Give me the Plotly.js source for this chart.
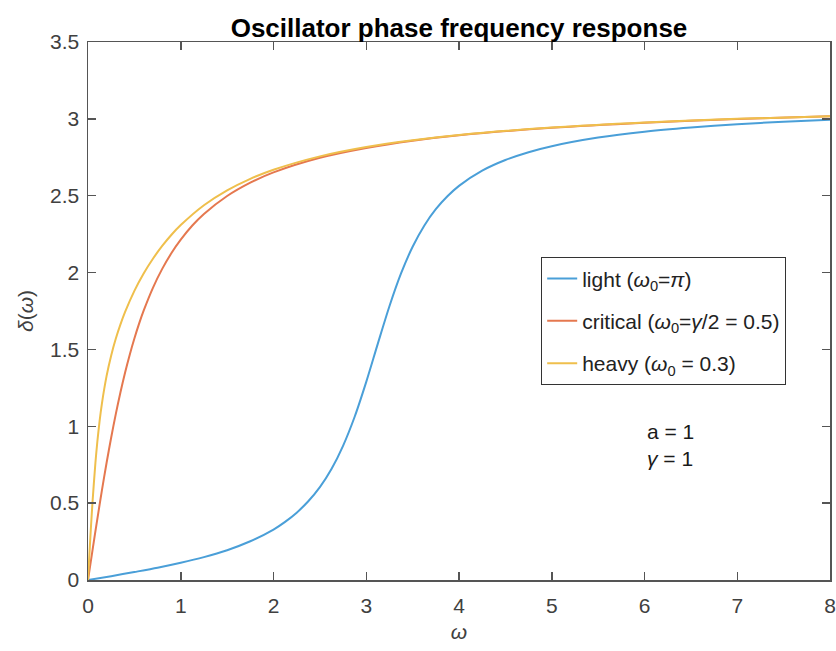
<!DOCTYPE html>
<html>
<head>
<meta charset="utf-8">
<script src="https://cdn.plot.ly/plotly-3.0.1.min.js"></script>
<style>html,body{margin:0;padding:0;background:#fff;}#chart{width:836px;height:651px;}</style>
</head>
<body>
<div id="chart"></div>
<script>
// Values
const omegaLight = [0, 0.25, 0.5, 0.75, 1, 1.25, 1.5, 1.75, 2, 2.125, 2.25, 2.375, 2.5, 2.625, 2.75, 2.875, 3, 3.125, 3.25, 3.375, 3.5, 3.625, 3.75, 3.875, 4, 4.25, 4.5, 4.75, 5, 5.5, 6, 6.5, 7, 7.5, 8];
const deltaLight = [0, 0.025, 0.052, 0.080, 0.112, 0.149, 0.194, 0.252, 0.328, 0.378, 0.438, 0.512, 0.604, 0.722, 0.873, 1.062, 1.289, 1.538, 1.781, 1.994, 2.168, 2.305, 2.412, 2.496, 2.564, 2.663, 2.732, 2.783, 2.822, 2.878, 2.916, 2.943, 2.965, 2.981, 2.995];

const omegaCritical = [0, 0.05, 0.1, 0.15, 0.2, 0.25, 0.3, 0.35, 0.4, 0.45, 0.5, 0.55, 0.6, 0.7, 0.8, 0.9, 1, 1.125, 1.25, 1.5, 1.75, 2, 2.5, 3, 3.5, 4, 5, 6, 7, 8];
const deltaCritical = [0, 0.199, 0.395, 0.583, 0.761, 0.927, 1.081, 1.221, 1.350, 1.466, 1.571, 1.666, 1.752, 1.901, 2.024, 2.127, 2.214, 2.306, 2.381, 2.498, 2.585, 2.652, 2.747, 2.811, 2.858, 2.893, 2.942, 2.975, 2.999, 3.017];

const omegaHeavy = [0, 0.01, 0.02, 0.03, 0.05, 0.08, 0.1, 0.125, 0.15, 0.2, 0.25, 0.3, 0.35, 0.4, 0.5, 0.6, 0.7, 0.8, 0.9, 1, 1.25, 1.5, 1.75, 2, 2.5, 3, 3.5, 4, 5, 6, 7, 8];
const deltaHeavy = [0, 0.111, 0.220, 0.325, 0.519, 0.763, 0.896, 1.034, 1.148, 1.326, 1.461, 1.571, 1.663, 1.744, 1.881, 1.994, 2.090, 2.173, 2.246, 2.309, 2.438, 2.535, 2.610, 2.669, 2.756, 2.817, 2.861, 2.895, 2.943, 2.976, 3.000, 3.017];

const seriesNames = ['light (<i>ω</i><sub>0</sub>=<i>π</i>)', 'critical (<i>ω</i><sub>0</sub>=<i>γ</i>/2 = 0.5)', 'heavy (<i>ω</i><sub>0</sub> = 0.3)'];
const xTicks = [0, 1, 2, 3, 4, 5, 6, 7, 8];
const yTicks = [0, 0.5, 1, 1.5, 2, 2.5, 3, 3.5];
const paramText = ['a = 1', '<i>γ</i> = 1'];

const FONT = 'Liberation Sans, Arial, sans-serif';
const colors = ['#4a9fd8', '#e5784f', '#efbf4c'];
const xs = [omegaLight, omegaCritical, omegaHeavy];
const ys = [deltaLight, deltaCritical, deltaHeavy];

const traces = xs.map((x, i) => ({
  x: x, y: ys[i], type: 'scatter', mode: 'lines',
  name: seriesNames[i], legendgroup: 'g' + i,
  line: {color: colors[i], width: 2, shape: 'spline', smoothing: 0.8}
}));

const axisCommon = {
  showgrid: false, zeroline: false, showline: true, mirror: 'ticks',
  linecolor: '#555555', linewidth: 1.5, ticks: 'inside', ticklen: 8, tickwidth: 1.5,
  tickcolor: '#555555', tickfont: {family: FONT, size: 21, color: '#404040'}
};

const layout = {
  width: 836, height: 651,
  margin: {l: 88, r: 6, t: 42, b: 71},
  paper_bgcolor: '#ffffff', plot_bgcolor: '#ffffff',
  font: {family: FONT, color: '#404040'},
  title: {text: '<b>Oscillator phase frequency response</b>', font: {family: FONT, size: 26, color: '#000000'},
          x: 0.5, xref: 'paper', y: 0.957, yref: 'container', yanchor: 'middle'},
  xaxis: Object.assign({}, axisCommon, {range: [0, 8], tickvals: xTicks, ticktext: xTicks.map(String),
          ticklabelstandoff: 6,
          title: {text: '<i>ω</i>', font: {family: FONT, size: 21, color: '#404040'}, standoff: 8}}),
  yaxis: Object.assign({}, axisCommon, {range: [0, 3.5], tickvals: yTicks, ticktext: yTicks.map(String),
          ticklabelstandoff: 3,
          title: {text: '<i>δ</i>(<i>ω</i>)', font: {family: FONT, size: 21, color: '#404040'}, standoff: 10}}),
  showlegend: true,
  legend: {x: 0.6105, y: 0.6, xanchor: 'left', yanchor: 'top', xref: 'paper', yref: 'paper',
           bgcolor: '#ffffff', bordercolor: '#333333', borderwidth: 1.2,
           entrywidth: 235, entrywidthmode: 'pixels',
           font: {family: FONT, size: 21, color: '#222222'}, tracegroupgap: 12},
  annotations: [{
    x: 6, y: 0.88, xref: 'x', yref: 'y', xanchor: 'left', yanchor: 'middle', showarrow: false, align: 'left',
    text: paramText.join('<br>'), font: {family: FONT, size: 21, color: '#1a1a1a'}
  }]
};

Plotly.newPlot('chart', traces, layout, {displayModeBar: false, staticPlot: true});
</script>
</body>
</html>
